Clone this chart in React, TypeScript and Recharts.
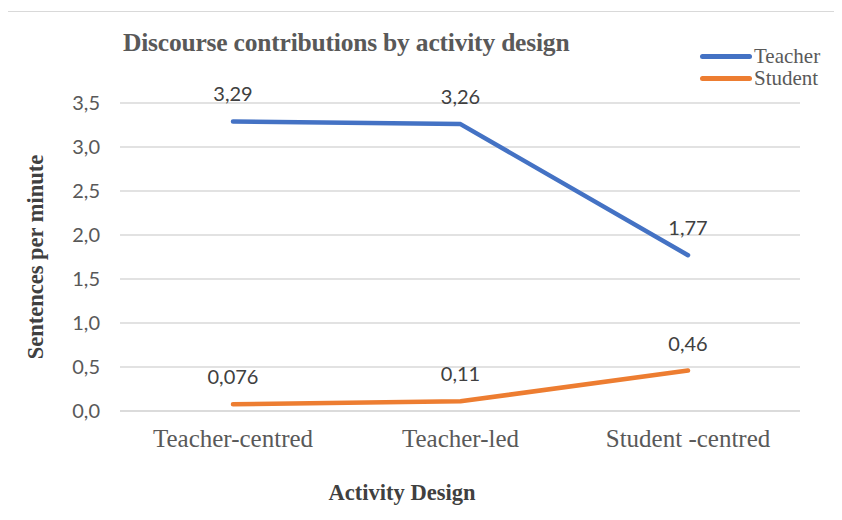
import React from "react";
import {
  LineChart,
  Line,
  XAxis,
  YAxis,
  CartesianGrid,
  LabelList,
} from "recharts";

const categories = ["Teacher-centred", "Teacher-led", "Student -centred"];
const teacher = [3.29, 3.26, 1.77];
const student = [0.076, 0.11, 0.46];
const teacherLabels = ["3,29", "3,26", "1,77"];
const studentLabels = ["0,076", "0,11", "0,46"];
const yTicks = [0, 0.5, 1, 1.5, 2, 2.5, 3, 3.5];

const data = categories.map((c, i) => ({
  name: c,
  teacher: teacher[i],
  student: student[i],
  teacherLabel: teacherLabels[i],
  studentLabel: studentLabels[i],
}));

const serif = "'Liberation Serif', 'Times New Roman', serif";
const sans = "Lato, 'Open Sans', sans-serif";

const legendItems = [
  { label: "Teacher", color: "#4472C4" },
  { label: "Student", color: "#ED7D31" },
];

export default function App() {
  return (
    <div style={{ position: "relative", width: 842, height: 520, margin: -8, overflow: "hidden", background: "#fff" }}>
      <div
        style={{
          position: "absolute",
          left: 5,
          top: 11,
          width: 860,
          height: 540,
          border: "1px solid #d9d9d9",
        }}
      />
      <div
        style={{
          position: "absolute",
          left: 123,
          top: 28,
          fontFamily: serif,
          fontWeight: "bold",
          fontSize: 25.5,
          color: "#595959",
          letterSpacing: -0.2,
        }}
      >
        Discourse contributions by activity design
      </div>
      <div
        style={{
          position: "absolute",
          left: 700,
          top: 45,
          fontFamily: serif,
          fontSize: 21,
          color: "#595959",
          lineHeight: "22px",
        }}
      >
        {legendItems.map((it) => (
          <div key={it.label} style={{ display: "flex", alignItems: "center", height: 22 }}>
            <span
              style={{
                display: "inline-block",
                width: 52,
                height: 5,
                borderRadius: 3,
                background: it.color,
                marginRight: 2,
              }}
            />
            {it.label}
          </div>
        ))}
      </div>
      <LineChart
        width={842}
        height={520}
        data={data}
        margin={{ top: 103, right: 42, left: 0, bottom: 0 }}
        style={{ position: "absolute", left: 0, top: 0 }}
      >
        <CartesianGrid vertical={false} stroke="#d9d9d9" strokeWidth={1.3} />
        <XAxis
          dataKey="name"
          height={109}
          padding={{ left: 113, right: 112 }}
          axisLine={{ stroke: "#d9d9d9", strokeWidth: 1.5 }}
          tickLine={false}
          tickSize={0}
          tickMargin={18}
          tick={{ fontFamily: serif, fontSize: 25, fill: "#595959" }}
          label={{
            value: "Activity Design",
            position: "insideBottom",
            offset: 20,
            dx: -58,
            style: { fontFamily: serif, fontWeight: "bold", fontSize: 22.5, fill: "#404040" },
          }}
        />
        <YAxis
          width={120}
          domain={[0, 3.5]}
          ticks={yTicks}
          axisLine={false}
          tickLine={false}
          tickSize={0}
          tickMargin={20}
          tickFormatter={(v: number) => v.toFixed(1).replace(".", ",")}
          tick={{ fontFamily: sans, fontSize: 20, fill: "#595959" }}
          label={{
            value: "Sentences per minute",
            angle: -90,
            position: "insideLeft",
            offset: 35,
            style: { textAnchor: "middle", fontFamily: serif, fontWeight: "bold", fontSize: 22.5, fill: "#404040" },
          }}
        />
        <Line
          type="linear"
          dataKey="teacher"
          stroke="#4472C4"
          strokeWidth={4.5}
          strokeLinecap="round"
          strokeLinejoin="round"
          dot={false}
          isAnimationActive={false}
        >
          <LabelList
            dataKey="teacherLabel"
            position="top"
            offset={20}
            style={{ fontFamily: sans, fontSize: 20, fill: "#404040" }}
          />
        </Line>
        <Line
          type="linear"
          dataKey="student"
          stroke="#ED7D31"
          strokeWidth={4.5}
          strokeLinecap="round"
          strokeLinejoin="round"
          dot={false}
          isAnimationActive={false}
        >
          <LabelList
            dataKey="studentLabel"
            position="top"
            offset={20}
            style={{ fontFamily: sans, fontSize: 20, fill: "#404040" }}
          />
        </Line>
      </LineChart>
    </div>
  );
}
